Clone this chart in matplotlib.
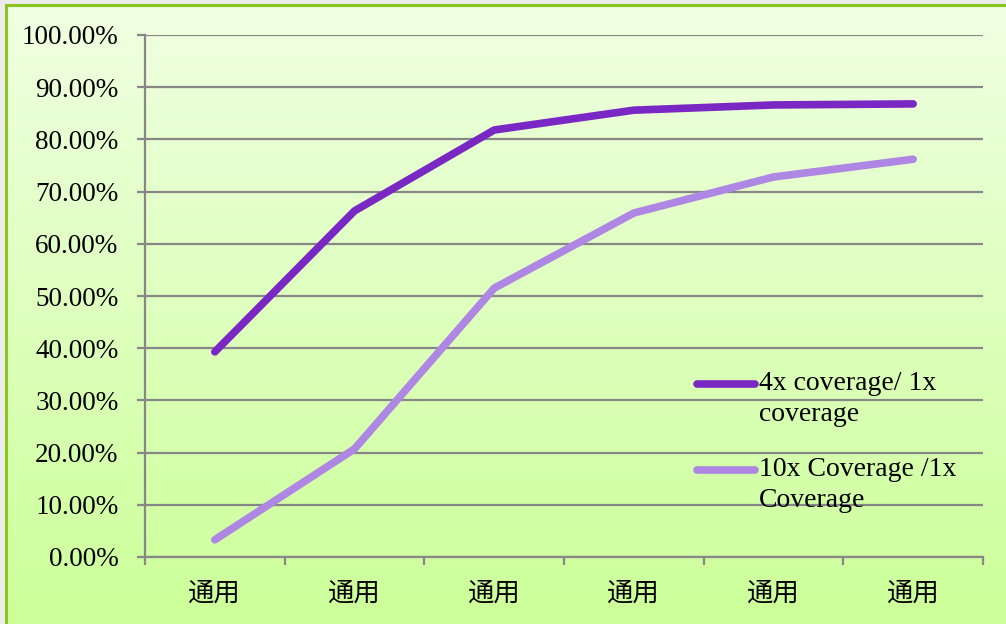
import matplotlib.pyplot as plt
import numpy as np
from matplotlib.colors import LinearSegmentedColormap
from matplotlib.patches import Rectangle
from matplotlib.ticker import FixedLocator, NullFormatter, FixedFormatter
from matplotlib.legend_handler import HandlerLine2D

# data
categories = ["通用", "通用", "通用", "通用", "通用", "通用"]
cov_4x = [0.393, 0.663, 0.818, 0.856, 0.866, 0.868]
cov_10x = [0.033, 0.207, 0.515, 0.659, 0.728, 0.762]
series_labels = ["4x coverage/ 1x\ncoverage", "10x Coverage /1x\nCoverage"]
y_ticks = [0.0, 0.1, 0.2, 0.3, 0.4, 0.5, 0.6, 0.7, 0.8, 0.9, 1.0]

LEG_FS = 20
LEG_LS = 1.3


class FirstLineHandler(HandlerLine2D):
    # legend line sits beside the first line of a two-line label
    def create_artists(self, legend, orig_handle, xdescent, ydescent,
                       width, height, fontsize, trans):
        arts = super().create_artists(legend, orig_handle, xdescent, ydescent,
                                      width, height, fontsize, trans)
        shift = 0.5 * fontsize * 0.8 * LEG_LS
        for a in arts:
            a.set_ydata(np.asarray(a.get_ydata()) + shift)
        return arts


W, H = 1006, 624
fig = plt.figure(figsize=(W / 100, H / 100), dpi=100)
fig.patch.set_facecolor("#ececec")

# gradient background inside the frame
bg = fig.add_axes([6 / W, 0, 1 - 6 / W, 1 - 5 / H], zorder=-5)
grad = np.linspace(0, 1, 256).reshape(-1, 1)
cmap = LinearSegmentedColormap.from_list("bg", ["#f0ffe2", "#ccff99"])
bg.imshow(grad, aspect="auto", cmap=cmap, extent=[0, 1, 0, 1])
bg.set_axis_off()
fig.patches.append(Rectangle((6 / W, -0.1), 1.2, 1.1 - 5 / H, transform=fig.transFigure,
                             fill=False, edgecolor="#8cc31e", linewidth=2.2, zorder=10))

ax = fig.add_axes([145 / W, 1 - 557 / H, (983 - 145) / W, (557 - 35) / H])
ax.patch.set_alpha(0)

x = np.arange(len(categories)) + 0.5
l1, = ax.plot(x, cov_4x, color="#7a28c4", lw=5.5, solid_capstyle="round",
              solid_joinstyle="round", zorder=3)
l2, = ax.plot(x, cov_10x, color="#ae86e3", lw=5.5, solid_capstyle="round",
              solid_joinstyle="round", zorder=3)

ax.set_xlim(0, len(categories))
ax.set_ylim(0, 1.0)

grid_c = "#878787"
ax.set_yticks(y_ticks)
ax.set_yticklabels([f"{v * 100:.2f}%" for v in y_ticks])
ax.yaxis.grid(True, color=grid_c, lw=1.6)
ax.set_axisbelow(True)

ax.xaxis.set_major_locator(FixedLocator(np.arange(len(categories) + 1)))
ax.xaxis.set_major_formatter(NullFormatter())
ax.xaxis.set_minor_locator(FixedLocator(x))
ax.xaxis.set_minor_formatter(FixedFormatter(categories))

for s in ["top", "right"]:
    ax.spines[s].set_visible(False)
for s in ["left", "bottom"]:
    ax.spines[s].set_color(grid_c)
    ax.spines[s].set_linewidth(1.6)

ax.tick_params(axis="y", length=6, width=1.6, color=grid_c, pad=13,
               labelsize=19.5, labelfontfamily="Liberation Serif")
ax.tick_params(axis="x", which="major", length=6, width=1.6, color=grid_c)
ax.tick_params(axis="x", which="minor", length=0, pad=16, labelsize=19,
               labelfontfamily="Noto Sans CJK SC")

leg = ax.legend([l1, l2], series_labels, loc="upper left",
                bbox_to_anchor=(697 / W, 1 - 371 / H), bbox_transform=fig.transFigure,
                frameon=False, handlelength=2.1, handletextpad=0.12,
                labelspacing=1.1, borderpad=0, borderaxespad=0,
                prop={"family": "Liberation Serif", "size": LEG_FS},
                handler_map={l1: FirstLineHandler(), l2: FirstLineHandler()})
leg.set_zorder(5)
for t in leg.get_texts():
    t.set_linespacing(LEG_LS)

fig.savefig("out.png", dpi=100, facecolor=fig.get_facecolor())
